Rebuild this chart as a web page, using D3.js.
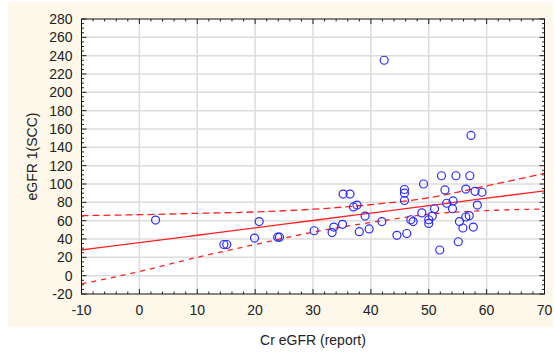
<!DOCTYPE html>
<html>
<head>
<meta charset="utf-8">
<script src="https://cdn.jsdelivr.net/npm/d3@7"></script>
<style>
  body { margin: 0; background: #fff; }
  text { font-family: "Liberation Sans", Arial, sans-serif; }
</style>
</head>
<body>
<div id="chart"></div>
<script>
// scatter points: Cr eGFR (report) vs eGFR 1(SCC)
const crEgfr = [2.8, 14.6, 15.1, 19.9, 20.7, 23.9, 24.2, 30.2,
  33.3, 33.6, 35.1, 35.2, 36.4, 37.0, 37.6, 38.0, 39.0, 39.7, 41.9, 42.3, 44.5,
  45.8, 45.8, 45.8, 46.2, 46.9, 47.3,
  48.8, 49.1, 50.0, 50.0, 50.6, 51.0, 51.9, 52.2, 52.8, 53.1, 54.1, 54.2, 54.7,
  55.1, 55.3, 55.9, 56.4, 56.4, 57.0, 57.1, 57.3, 57.7, 58.0, 58.4, 59.2];
const egfrScc = [60.7, 34, 34, 41, 59, 42, 42, 49,
  47, 53, 56, 89, 89, 75, 77, 48, 65, 51, 59, 235, 44,
  94, 90, 82, 46, 61, 59,
  68.5, 100, 61, 57, 65, 73, 28, 109, 93.5, 79, 73, 81.5, 109,
  37, 59, 52, 94.5, 64, 65.5, 109, 153, 53, 92, 77, 91];

const bandX = [-10, 0, 10, 20, 30, 40, 50, 60, 70];
const fitY = [28, 36, 44.1, 52.2, 60.2, 68.3, 76.4, 84.5, 92.5];
const upperY = [65.5, 66.5, 68, 69.5, 72.5, 77.5, 85, 98, 111.5];
const lowerY = [-9, 4.5, 20, 34, 47.5, 58, 67, 71, 72.7];

const xTicks = [-10, 0, 10, 20, 30, 40, 50, 60, 70];
const yTicks = d3.range(-20, 281, 20);

const W = 555, H = 356;
const margin = { top: 19, right: 10.5, bottom: 62, left: 81.5 };
const width = W - margin.left - margin.right;
const height = H - margin.top - margin.bottom;

const svg = d3.select("#chart").append("svg")
  .attr("width", W)
  .attr("height", H);

// cream panel behind the graph
svg.append("rect")
  .attr("x", 8).attr("y", 2)
  .attr("width", 545).attr("height", 325)
  .attr("fill", "#fdf8ea");

const g = svg.append("g")
  .attr("transform", "translate(" + margin.left + "," + margin.top + ")");

const x = d3.scaleLinear().domain([-10, 70]).range([0, width]);
const y = d3.scaleLinear().domain([-20, 280]).range([height, 0]);

g.append("rect")
  .attr("width", width).attr("height", height)
  .attr("fill", "#fff");

// grid
g.selectAll(".gx").data(xTicks.slice(1, -1)).enter().append("line")
  .attr("x1", d => x(d)).attr("x2", d => x(d))
  .attr("y1", 0).attr("y2", height)
  .attr("stroke", "#dcdcdc").attr("stroke-width", 1.5);
g.selectAll(".gy").data(yTicks.slice(1, -1)).enter().append("line")
  .attr("y1", d => y(d)).attr("y2", d => y(d))
  .attr("x1", 0).attr("x2", width)
  .attr("stroke", "#dcdcdc").attr("stroke-width", 1.5);

// inward ticks on all four sides
const xMinor = d3.range(-10, 70.1, 2);
const yMinor = d3.range(-20, 280.1, 5);
const tickCol = "#222";
function xTickMarks(y0, dir) {
  g.selectAll(null).data(xMinor).enter().append("line")
    .attr("x1", d => x(d)).attr("x2", d => x(d))
    .attr("y1", y0).attr("y2", d => y0 + dir * (d % 10 === 0 ? 5 : 2.5))
    .attr("stroke", tickCol);
}
function yTickMarks(x0, dir) {
  g.selectAll(null).data(yMinor).enter().append("line")
    .attr("y1", d => y(d)).attr("y2", d => y(d))
    .attr("x1", x0).attr("x2", d => x0 + dir * (d % 20 === 0 ? 5 : 2.5))
    .attr("stroke", tickCol);
}
xTickMarks(height, -1);
xTickMarks(0, 1);
yTickMarks(0, 1);
yTickMarks(width, -1);

// tick labels
g.selectAll(".xl").data(xTicks).enter().append("text")
  .attr("x", d => x(d)).attr("y", height + 21)
  .attr("text-anchor", "middle")
  .attr("font-size", 14).attr("fill", "#222")
  .text(d => d);
g.selectAll(".yl").data(yTicks).enter().append("text")
  .attr("x", -9).attr("y", d => y(d) + 5)
  .attr("text-anchor", "end")
  .attr("font-size", 14).attr("fill", "#222")
  .text(d => d);

// regression + band
const line = d3.line().x((d, i) => x(bandX[i])).y(d => y(d)).curve(d3.curveMonotoneX);
g.append("path").attr("d", line(fitY))
  .attr("fill", "none").attr("stroke", "#ff2020").attr("stroke-width", 1.3);
g.append("path").attr("d", line(upperY))
  .attr("fill", "none").attr("stroke", "#ff2020").attr("stroke-width", 1.3)
  .attr("stroke-dasharray", "7,4");
g.append("path").attr("d", line(lowerY))
  .attr("fill", "none").attr("stroke", "#ff2020").attr("stroke-width", 1.3)
  .attr("stroke-dasharray", "5,5");

// points
g.selectAll(".pt").data(crEgfr).enter().append("circle")
  .attr("cx", d => x(d))
  .attr("cy", (d, i) => y(egfrScc[i]))
  .attr("r", 4)
  .attr("fill", "none")
  .attr("stroke", "#2a2aff")
  .attr("stroke-width", 1.2);

// frame
g.append("rect")
  .attr("width", width).attr("height", height)
  .attr("fill", "none").attr("stroke", "#111").attr("stroke-width", 1);

// axis titles
svg.append("text")
  .attr("x", margin.left + width / 2).attr("y", 345)
  .attr("text-anchor", "middle")
  .attr("font-size", 14).attr("fill", "#222")
  .text("Cr eGFR (report)");
svg.append("text")
  .attr("transform", "translate(37," + (margin.top + height / 2) + ") rotate(-90)")
  .attr("text-anchor", "middle")
  .attr("font-size", 14).attr("fill", "#222")
  .text("eGFR 1(SCC)");
</script>
</body>
</html>
